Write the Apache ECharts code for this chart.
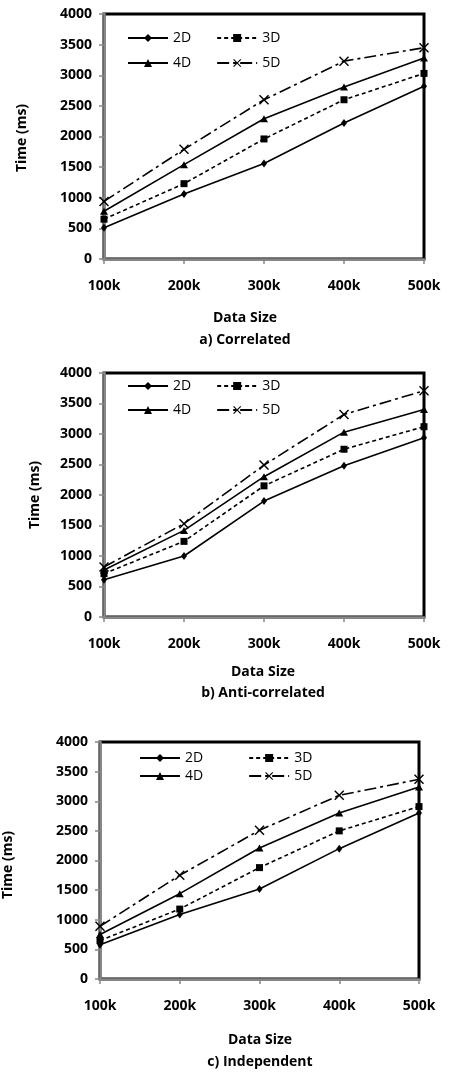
<!DOCTYPE html>
<html><head><meta charset="utf-8">
<script src="https://cdn.jsdelivr.net/npm/echarts@6/dist/echarts.min.js"></script>
<style>html,body{margin:0;padding:0;background:#fff}#c{width:450px;height:1073px}</style>
</head><body><div id="c"></div>
<script>
const categories = ['100k','200k','300k','400k','500k'];
const seriesNames = ['2D','3D','4D','5D'];
const yTicks = [0,500,1000,1500,2000,2500,3000,3500,4000];
// a) Correlated
const corr2D = [510,1060,1560,2220,2820];
const corr3D = [650,1230,1960,2600,3030];
const corr4D = [780,1540,2290,2810,3280];
const corr5D = [940,1790,2600,3230,3450];
// b) Anti-correlated
const anti2D = [610,1000,1900,2480,2940];
const anti3D = [710,1240,2150,2750,3120];
const anti4D = [770,1420,2300,3030,3400];
const anti5D = [820,1530,2490,3320,3710];
// c) Independent
const ind2D = [580,1090,1520,2200,2800];
const ind3D = [650,1180,1880,2500,2910];
const ind4D = [750,1440,2210,2800,3240];
const ind5D = [890,1750,2510,3100,3370];
const subtitles = ['a) Correlated','b) Anti-correlated','c) Independent'];
const xTitle = 'Data Size';
const yTitle = 'Time (ms)';

const panels = [
  {data:[corr2D,corr3D,corr4D,corr5D], grid:{left:104,top:14,width:320,height:245},
   leg:{left:127,row1:31,row2:56,gap:25}, xt:[245,318], sub:[245,340], yt:[22,138]},
  {data:[anti2D,anti3D,anti4D,anti5D], grid:{left:104,top:373,width:320,height:244},
   leg:{left:127,row1:379,row2:403,gap:25}, xt:[263,672], sub:[263,693], yt:[35,495]},
  {data:[ind2D,ind3D,ind4D,ind5D], grid:{left:100,top:742,width:319,height:237},
   leg:{left:139,row1:751,row2:769,gap:45}, xt:[260,1040], sub:[260,1062], yt:[8,865]}
];

const FONT = '"Open Sans", "Liberation Sans", sans-serif';
const xPath = 'path://M0,1L1,0L5,4L9,0L10,1L6,5L10,9L9,10L5,6L1,10L0,9L4,5Z';
const styles = [
  {symbol:'diamond', symbolSize:[6,8], type:'solid'},
  {symbol:'rect', symbolSize:[7,7], type:[4,3]},
  {symbol:'triangle', symbolSize:[8,7], type:'solid'},
  {symbol:xPath, symbolSize:[10,10], type:[12,4,3,4]}
];

const option = {animation:false, backgroundColor:'#fff', grid:[], xAxis:[], yAxis:[], series:[], legend:[], graphic:[]};
panels.forEach((p,i)=>{
  option.grid.push(Object.assign({show:true, borderColor:'#000', borderWidth:3, backgroundColor:'#fff', containLabel:false}, p.grid));
  option.xAxis.push({type:'category', gridIndex:i, data:categories, boundaryGap:false,
    axisLine:{lineStyle:{color:'#888', width:2.5}},
    axisTick:{alignWithLabel:true, length:5, lineStyle:{color:'#888', width:1.5}},
    axisLabel:{margin:20, color:'#000', fontFamily:FONT, fontWeight:'bold', fontSize:14}});
  option.yAxis.push({type:'value', gridIndex:i, min:0, max:4000, interval:500,
    axisLine:{show:true, lineStyle:{color:'#888', width:2.5}},
    axisTick:{show:true, length:5, lineStyle:{color:'#888', width:1.5}},
    splitLine:{show:false},
    axisLabel:{margin:12, color:'#000', fontFamily:FONT, fontWeight:'bold', fontSize:14,
      formatter:v=>yTicks.includes(v)?String(v):''}});
  p.data.forEach((d,k)=>{
    option.series.push({type:'line', name:seriesNames[k], xAxisIndex:i, yAxisIndex:i, data:d,
      symbol:styles[k].symbol, symbolSize:styles[k].symbolSize, showSymbol:true,
      lineStyle:{color:'#000', width:1.6, type:styles[k].type},
      itemStyle:{color:'#000', borderWidth:0}, z:3+k});
  });
  const legBase = {orient:'horizontal', itemWidth:40, itemHeight:10, padding:0, itemGap:p.leg.gap,
    textStyle:{color:'#000', fontFamily:FONT, fontSize:14}, selectedMode:false};
  option.legend.push(Object.assign({}, legBase, {left:p.leg.left, top:p.leg.row1, data:['2D','3D']}));
  option.legend.push(Object.assign({}, legBase, {left:p.leg.left, top:p.leg.row2, data:['4D','5D']}));
  option.graphic.push({type:'text', x:p.xt[0], y:p.xt[1], style:{text:xTitle, fill:'#000', font:'bold 14px '+FONT, textAlign:'center', textVerticalAlign:'middle'}});
  option.graphic.push({type:'text', x:p.sub[0], y:p.sub[1], style:{text:subtitles[i], fill:'#000', font:'bold 14px '+FONT, textAlign:'center', textVerticalAlign:'middle'}});
  option.graphic.push({type:'text', x:p.yt[0], y:p.yt[1], rotation:Math.PI/2, style:{text:yTitle, fill:'#000', font:'bold 14px '+FONT, textAlign:'center', textVerticalAlign:'middle'}});
});
const chart = echarts.init(document.getElementById('c'), null, {renderer:'canvas'});
chart.setOption(option);
</script></body></html>
